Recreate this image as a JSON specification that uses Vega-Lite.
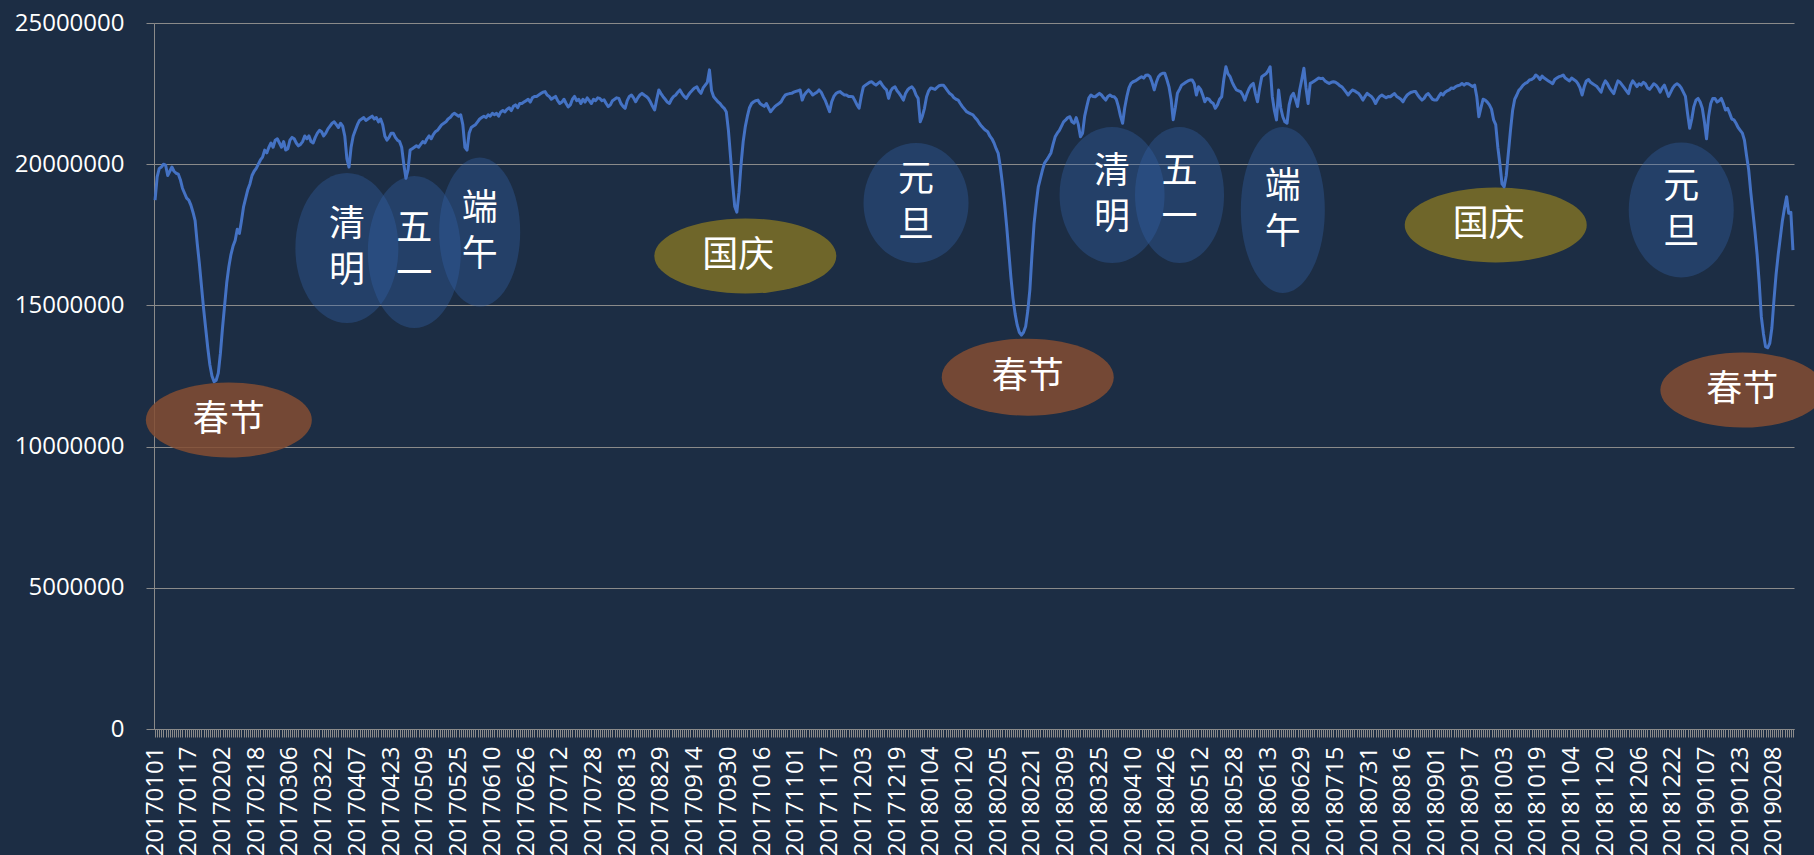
{
"$schema": "https://vega.github.io/schema/vega-lite/v6.json",
"width": 1640,
"height": 706,
"autosize": {"type": "none"},
"padding": {"left": 154, "top": 23, "right": 20, "bottom": 126},
"background": "#1c2d44",
"config": {"view": {"stroke": null}, "font": "Open Sans"},
"datasets": {
"series": [
{"d":"20170101","v":18730000},{"d":"20170102","v":19550000},{"d":"20170103","v":19850000},{"d":"20170104","v":19900000},{"d":"20170105","v":20000000},{"d":"20170106","v":19970000},{"d":"20170107","v":19600000},{"d":"20170108","v":19750000},{"d":"20170109","v":19900000},{"d":"20170110","v":19750000},{"d":"20170111","v":19680000},{"d":"20170112","v":19650000},{"d":"20170113","v":19450000},{"d":"20170114","v":19150000},{"d":"20170115","v":18970000},{"d":"20170116","v":18800000},{"d":"20170117","v":18730000},{"d":"20170118","v":18550000},{"d":"20170119","v":18300000},{"d":"20170120","v":18000000},{"d":"20170121","v":17200000},{"d":"20170122","v":16500000},{"d":"20170123","v":15700000},{"d":"20170124","v":14900000},{"d":"20170125","v":14200000},{"d":"20170126","v":13500000},{"d":"20170127","v":12900000},{"d":"20170128","v":12500000},{"d":"20170129","v":12300000},{"d":"20170130","v":12350000},{"d":"20170131","v":12600000},
{"d":"20170201","v":13300000},{"d":"20170202","v":14200000},{"d":"20170203","v":15000000},{"d":"20170204","v":15800000},{"d":"20170205","v":16370000},{"d":"20170206","v":16800000},{"d":"20170207","v":17100000},{"d":"20170208","v":17300000},{"d":"20170209","v":17700000},{"d":"20170210","v":17550000},{"d":"20170211","v":18000000},{"d":"20170212","v":18500000},{"d":"20170213","v":18800000},{"d":"20170214","v":19100000},{"d":"20170215","v":19300000},{"d":"20170216","v":19600000},{"d":"20170217","v":19750000},{"d":"20170218","v":19850000},{"d":"20170219","v":20000000},{"d":"20170220","v":20150000},{"d":"20170221","v":20250000},{"d":"20170222","v":20500000},{"d":"20170223","v":20400000},{"d":"20170224","v":20600000},{"d":"20170225","v":20750000},{"d":"20170226","v":20600000},{"d":"20170227","v":20850000},{"d":"20170228","v":20900000},
{"d":"20170301","v":20750000},{"d":"20170302","v":20600000},{"d":"20170303","v":20800000},{"d":"20170304","v":20500000},{"d":"20170305","v":20550000},{"d":"20170306","v":20850000},{"d":"20170307","v":20950000},{"d":"20170308","v":20900000},{"d":"20170309","v":20750000},{"d":"20170310","v":20650000},{"d":"20170311","v":20700000},{"d":"20170312","v":20800000},{"d":"20170313","v":21000000},{"d":"20170314","v":20900000},{"d":"20170315","v":21000000},{"d":"20170316","v":20800000},{"d":"20170317","v":20750000},{"d":"20170318","v":20950000},{"d":"20170319","v":21100000},{"d":"20170320","v":21200000},{"d":"20170321","v":21150000},{"d":"20170322","v":21000000},{"d":"20170323","v":21100000},{"d":"20170324","v":21250000},{"d":"20170325","v":21350000},{"d":"20170326","v":21450000},{"d":"20170327","v":21500000},{"d":"20170328","v":21400000},{"d":"20170329","v":21300000},{"d":"20170330","v":21450000},{"d":"20170331","v":21350000},
{"d":"20170401","v":21000000},{"d":"20170402","v":20200000},{"d":"20170403","v":19900000},{"d":"20170404","v":20600000},{"d":"20170405","v":21000000},{"d":"20170406","v":21200000},{"d":"20170407","v":21400000},{"d":"20170408","v":21550000},{"d":"20170409","v":21600000},{"d":"20170410","v":21650000},{"d":"20170411","v":21550000},{"d":"20170412","v":21600000},{"d":"20170413","v":21650000},{"d":"20170414","v":21700000},{"d":"20170415","v":21600000},{"d":"20170416","v":21650000},{"d":"20170417","v":21500000},{"d":"20170418","v":21600000},{"d":"20170419","v":21400000},{"d":"20170420","v":21000000},{"d":"20170421","v":20850000},{"d":"20170422","v":20950000},{"d":"20170423","v":21100000},{"d":"20170424","v":21100000},{"d":"20170425","v":20950000},{"d":"20170426","v":20850000},{"d":"20170427","v":20800000},{"d":"20170428","v":20600000},{"d":"20170429","v":20000000},{"d":"20170430","v":19500000},
{"d":"20170501","v":19800000},{"d":"20170502","v":20500000},{"d":"20170503","v":20550000},{"d":"20170504","v":20600000},{"d":"20170505","v":20650000},{"d":"20170506","v":20600000},{"d":"20170507","v":20700000},{"d":"20170508","v":20800000},{"d":"20170509","v":20750000},{"d":"20170510","v":20900000},{"d":"20170511","v":21000000},{"d":"20170512","v":20900000},{"d":"20170513","v":21050000},{"d":"20170514","v":21150000},{"d":"20170515","v":21200000},{"d":"20170516","v":21300000},{"d":"20170517","v":21400000},{"d":"20170518","v":21450000},{"d":"20170519","v":21500000},{"d":"20170520","v":21600000},{"d":"20170521","v":21650000},{"d":"20170522","v":21750000},{"d":"20170523","v":21800000},{"d":"20170524","v":21750000},{"d":"20170525","v":21700000},{"d":"20170526","v":21750000},{"d":"20170527","v":21400000},{"d":"20170528","v":20600000},{"d":"20170529","v":20500000},{"d":"20170530","v":21100000},{"d":"20170531","v":21300000},
{"d":"20170601","v":21350000},{"d":"20170602","v":21400000},{"d":"20170603","v":21500000},{"d":"20170604","v":21600000},{"d":"20170605","v":21650000},{"d":"20170606","v":21700000},{"d":"20170607","v":21650000},{"d":"20170608","v":21750000},{"d":"20170609","v":21700000},{"d":"20170610","v":21800000},{"d":"20170611","v":21750000},{"d":"20170612","v":21800000},{"d":"20170613","v":21700000},{"d":"20170614","v":21850000},{"d":"20170615","v":21900000},{"d":"20170616","v":21850000},{"d":"20170617","v":21950000},{"d":"20170618","v":22000000},{"d":"20170619","v":21900000},{"d":"20170620","v":22050000},{"d":"20170621","v":22100000},{"d":"20170622","v":22000000},{"d":"20170623","v":22150000},{"d":"20170624","v":22150000},{"d":"20170625","v":22200000},{"d":"20170626","v":22250000},{"d":"20170627","v":22300000},{"d":"20170628","v":22200000},{"d":"20170629","v":22350000},{"d":"20170630","v":22400000},
{"d":"20170701","v":22400000},{"d":"20170702","v":22450000},{"d":"20170703","v":22500000},{"d":"20170704","v":22550000},{"d":"20170705","v":22570000},{"d":"20170706","v":22450000},{"d":"20170707","v":22400000},{"d":"20170708","v":22300000},{"d":"20170709","v":22350000},{"d":"20170710","v":22400000},{"d":"20170711","v":22250000},{"d":"20170712","v":22150000},{"d":"20170713","v":22200000},{"d":"20170714","v":22300000},{"d":"20170715","v":22150000},{"d":"20170716","v":22030000},{"d":"20170717","v":22100000},{"d":"20170718","v":22300000},{"d":"20170719","v":22400000},{"d":"20170720","v":22250000},{"d":"20170721","v":22300000},{"d":"20170722","v":22150000},{"d":"20170723","v":22300000},{"d":"20170724","v":22200000},{"d":"20170725","v":22350000},{"d":"20170726","v":22250000},{"d":"20170727","v":22150000},{"d":"20170728","v":22300000},{"d":"20170729","v":22250000},{"d":"20170730","v":22350000},{"d":"20170731","v":22330000},
{"d":"20170801","v":22250000},{"d":"20170802","v":22280000},{"d":"20170803","v":22150000},{"d":"20170804","v":22040000},{"d":"20170805","v":22100000},{"d":"20170806","v":22250000},{"d":"20170807","v":22300000},{"d":"20170808","v":22350000},{"d":"20170809","v":22330000},{"d":"20170810","v":22150000},{"d":"20170811","v":22050000},{"d":"20170812","v":21980000},{"d":"20170813","v":22250000},{"d":"20170814","v":22400000},{"d":"20170815","v":22450000},{"d":"20170816","v":22350000},{"d":"20170817","v":22210000},{"d":"20170818","v":22350000},{"d":"20170819","v":22450000},{"d":"20170820","v":22510000},{"d":"20170821","v":22450000},{"d":"20170822","v":22400000},{"d":"20170823","v":22330000},{"d":"20170824","v":22200000},{"d":"20170825","v":22050000},{"d":"20170826","v":21920000},{"d":"20170827","v":22300000},{"d":"20170828","v":22630000},{"d":"20170829","v":22500000},{"d":"20170830","v":22390000},{"d":"20170831","v":22300000},
{"d":"20170901","v":22200000},{"d":"20170902","v":22150000},{"d":"20170903","v":22300000},{"d":"20170904","v":22400000},{"d":"20170905","v":22450000},{"d":"20170906","v":22550000},{"d":"20170907","v":22630000},{"d":"20170908","v":22500000},{"d":"20170909","v":22400000},{"d":"20170910","v":22330000},{"d":"20170911","v":22450000},{"d":"20170912","v":22550000},{"d":"20170913","v":22630000},{"d":"20170914","v":22700000},{"d":"20170915","v":22740000},{"d":"20170916","v":22600000},{"d":"20170917","v":22510000},{"d":"20170918","v":22700000},{"d":"20170919","v":22800000},{"d":"20170920","v":22900000},{"d":"20170921","v":23340000},{"d":"20170922","v":22600000},{"d":"20170923","v":22390000},{"d":"20170924","v":22300000},{"d":"20170925","v":22210000},{"d":"20170926","v":22150000},{"d":"20170927","v":22050000},{"d":"20170928","v":21980000},{"d":"20170929","v":21850000},{"d":"20170930","v":21200000},
{"d":"20171001","v":20270000},{"d":"20171002","v":19300000},{"d":"20171003","v":18500000},{"d":"20171004","v":18300000},{"d":"20171005","v":19000000},{"d":"20171006","v":20000000},{"d":"20171007","v":20800000},{"d":"20171008","v":21330000},{"d":"20171009","v":21700000},{"d":"20171010","v":22000000},{"d":"20171011","v":22150000},{"d":"20171012","v":22210000},{"d":"20171013","v":22250000},{"d":"20171014","v":22270000},{"d":"20171015","v":22150000},{"d":"20171016","v":22100000},{"d":"20171017","v":22050000},{"d":"20171018","v":22150000},{"d":"20171019","v":22000000},{"d":"20171020","v":21860000},{"d":"20171021","v":21950000},{"d":"20171022","v":22040000},{"d":"20171023","v":22100000},{"d":"20171024","v":22150000},{"d":"20171025","v":22210000},{"d":"20171026","v":22350000},{"d":"20171027","v":22450000},{"d":"20171028","v":22480000},{"d":"20171029","v":22500000},{"d":"20171030","v":22510000},{"d":"20171031","v":22550000},
{"d":"20171101","v":22580000},{"d":"20171102","v":22600000},{"d":"20171103","v":22630000},{"d":"20171104","v":22270000},{"d":"20171105","v":22450000},{"d":"20171106","v":22550000},{"d":"20171107","v":22630000},{"d":"20171108","v":22550000},{"d":"20171109","v":22450000},{"d":"20171110","v":22500000},{"d":"20171111","v":22550000},{"d":"20171112","v":22630000},{"d":"20171113","v":22550000},{"d":"20171114","v":22390000},{"d":"20171115","v":22250000},{"d":"20171116","v":22050000},{"d":"20171117","v":21860000},{"d":"20171118","v":22210000},{"d":"20171119","v":22400000},{"d":"20171120","v":22500000},{"d":"20171121","v":22550000},{"d":"20171122","v":22570000},{"d":"20171123","v":22500000},{"d":"20171124","v":22450000},{"d":"20171125","v":22450000},{"d":"20171126","v":22400000},{"d":"20171127","v":22400000},{"d":"20171128","v":22390000},{"d":"20171129","v":22250000},{"d":"20171130","v":22100000},
{"d":"20171201","v":21980000},{"d":"20171202","v":22400000},{"d":"20171203","v":22740000},{"d":"20171204","v":22800000},{"d":"20171205","v":22850000},{"d":"20171206","v":22900000},{"d":"20171207","v":22920000},{"d":"20171208","v":22850000},{"d":"20171209","v":22800000},{"d":"20171210","v":22860000},{"d":"20171211","v":22920000},{"d":"20171212","v":22800000},{"d":"20171213","v":22700000},{"d":"20171214","v":22630000},{"d":"20171215","v":22330000},{"d":"20171216","v":22600000},{"d":"20171217","v":22700000},{"d":"20171218","v":22740000},{"d":"20171219","v":22600000},{"d":"20171220","v":22510000},{"d":"20171221","v":22400000},{"d":"20171222","v":22270000},{"d":"20171223","v":22500000},{"d":"20171224","v":22630000},{"d":"20171225","v":22700000},{"d":"20171226","v":22740000},{"d":"20171227","v":22650000},{"d":"20171228","v":22450000},{"d":"20171229","v":22330000},{"d":"20171230","v":21500000},{"d":"20171231","v":21700000},
{"d":"20180101","v":21980000},{"d":"20180102","v":22390000},{"d":"20180103","v":22600000},{"d":"20180104","v":22700000},{"d":"20180105","v":22680000},{"d":"20180106","v":22650000},{"d":"20180107","v":22720000},{"d":"20180108","v":22780000},{"d":"20180109","v":22800000},{"d":"20180110","v":22800000},{"d":"20180111","v":22700000},{"d":"20180112","v":22600000},{"d":"20180113","v":22500000},{"d":"20180114","v":22450000},{"d":"20180115","v":22350000},{"d":"20180116","v":22300000},{"d":"20180117","v":22270000},{"d":"20180118","v":22150000},{"d":"20180119","v":22040000},{"d":"20180120","v":21950000},{"d":"20180121","v":21860000},{"d":"20180122","v":21820000},{"d":"20180123","v":21780000},{"d":"20180124","v":21750000},{"d":"20180125","v":21650000},{"d":"20180126","v":21570000},{"d":"20180127","v":21450000},{"d":"20180128","v":21350000},{"d":"20180129","v":21270000},{"d":"20180130","v":21200000},{"d":"20180131","v":21150000},
{"d":"20180201","v":21000000},{"d":"20180202","v":20900000},{"d":"20180203","v":20750000},{"d":"20180204","v":20550000},{"d":"20180205","v":20380000},{"d":"20180206","v":19900000},{"d":"20180207","v":19300000},{"d":"20180208","v":18600000},{"d":"20180209","v":17800000},{"d":"20180210","v":16900000},{"d":"20180211","v":16000000},{"d":"20180212","v":15250000},{"d":"20180213","v":14700000},{"d":"20180214","v":14300000},{"d":"20180215","v":14050000},{"d":"20180216","v":13950000},{"d":"20180217","v":14050000},{"d":"20180218","v":14250000},{"d":"20180219","v":14800000},{"d":"20180220","v":15550000},{"d":"20180221","v":16800000},{"d":"20180222","v":17900000},{"d":"20180223","v":18600000},{"d":"20180224","v":19200000},{"d":"20180225","v":19500000},{"d":"20180226","v":19800000},{"d":"20180227","v":20050000},{"d":"20180228","v":20150000},
{"d":"20180301","v":20270000},{"d":"20180302","v":20400000},{"d":"20180303","v":20700000},{"d":"20180304","v":20970000},{"d":"20180305","v":21100000},{"d":"20180306","v":21200000},{"d":"20180307","v":21350000},{"d":"20180308","v":21500000},{"d":"20180309","v":21570000},{"d":"20180310","v":21650000},{"d":"20180311","v":21680000},{"d":"20180312","v":21500000},{"d":"20180313","v":21450000},{"d":"20180314","v":21650000},{"d":"20180315","v":21400000},{"d":"20180316","v":20970000},{"d":"20180317","v":21100000},{"d":"20180318","v":21700000},{"d":"20180319","v":22040000},{"d":"20180320","v":22350000},{"d":"20180321","v":22450000},{"d":"20180322","v":22400000},{"d":"20180323","v":22390000},{"d":"20180324","v":22450000},{"d":"20180325","v":22510000},{"d":"20180326","v":22450000},{"d":"20180327","v":22350000},{"d":"20180328","v":22270000},{"d":"20180329","v":22400000},{"d":"20180330","v":22450000},{"d":"20180331","v":22400000},
{"d":"20180401","v":22390000},{"d":"20180402","v":22300000},{"d":"20180403","v":22040000},{"d":"20180404","v":21700000},{"d":"20180405","v":21450000},{"d":"20180406","v":22000000},{"d":"20180407","v":22390000},{"d":"20180408","v":22700000},{"d":"20180409","v":22860000},{"d":"20180410","v":22920000},{"d":"20180411","v":22950000},{"d":"20180412","v":23000000},{"d":"20180413","v":23050000},{"d":"20180414","v":23100000},{"d":"20180415","v":23050000},{"d":"20180416","v":23150000},{"d":"20180417","v":23160000},{"d":"20180418","v":23100000},{"d":"20180419","v":22900000},{"d":"20180420","v":22630000},{"d":"20180421","v":22900000},{"d":"20180422","v":23100000},{"d":"20180423","v":23180000},{"d":"20180424","v":23220000},{"d":"20180425","v":23220000},{"d":"20180426","v":23000000},{"d":"20180427","v":22740000},{"d":"20180428","v":22300000},{"d":"20180429","v":21570000},{"d":"20180430","v":22000000},
{"d":"20180501","v":22510000},{"d":"20180502","v":22650000},{"d":"20180503","v":22800000},{"d":"20180504","v":22850000},{"d":"20180505","v":22900000},{"d":"20180506","v":22950000},{"d":"20180507","v":22980000},{"d":"20180508","v":22980000},{"d":"20180509","v":22850000},{"d":"20180510","v":22450000},{"d":"20180511","v":22740000},{"d":"20180512","v":22650000},{"d":"20180513","v":22450000},{"d":"20180514","v":22210000},{"d":"20180515","v":22330000},{"d":"20180516","v":22300000},{"d":"20180517","v":22200000},{"d":"20180518","v":22150000},{"d":"20180519","v":21980000},{"d":"20180520","v":22100000},{"d":"20180521","v":22300000},{"d":"20180522","v":22390000},{"d":"20180523","v":23000000},{"d":"20180524","v":23450000},{"d":"20180525","v":23200000},{"d":"20180526","v":23100000},{"d":"20180527","v":22900000},{"d":"20180528","v":22750000},{"d":"20180529","v":22630000},{"d":"20180530","v":22600000},{"d":"20180531","v":22570000},
{"d":"20180601","v":22450000},{"d":"20180602","v":22270000},{"d":"20180603","v":22500000},{"d":"20180604","v":22680000},{"d":"20180605","v":22800000},{"d":"20180606","v":22860000},{"d":"20180607","v":22500000},{"d":"20180608","v":22210000},{"d":"20180609","v":22700000},{"d":"20180610","v":23100000},{"d":"20180611","v":23150000},{"d":"20180612","v":23200000},{"d":"20180613","v":23300000},{"d":"20180614","v":23450000},{"d":"20180615","v":22400000},{"d":"20180616","v":21900000},{"d":"20180617","v":21570000},{"d":"20180618","v":22630000},{"d":"20180619","v":22000000},{"d":"20180620","v":21680000},{"d":"20180621","v":21500000},{"d":"20180622","v":21450000},{"d":"20180623","v":22100000},{"d":"20180624","v":22400000},{"d":"20180625","v":22510000},{"d":"20180626","v":22300000},{"d":"20180627","v":22040000},{"d":"20180628","v":22630000},{"d":"20180629","v":23000000},{"d":"20180630","v":23400000},
{"d":"20180701","v":22700000},{"d":"20180702","v":22150000},{"d":"20180703","v":22860000},{"d":"20180704","v":22900000},{"d":"20180705","v":22950000},{"d":"20180706","v":23000000},{"d":"20180707","v":23050000},{"d":"20180708","v":23030000},{"d":"20180709","v":23040000},{"d":"20180710","v":22950000},{"d":"20180711","v":22900000},{"d":"20180712","v":22860000},{"d":"20180713","v":22900000},{"d":"20180714","v":22920000},{"d":"20180715","v":22900000},{"d":"20180716","v":22850000},{"d":"20180717","v":22780000},{"d":"20180718","v":22740000},{"d":"20180719","v":22650000},{"d":"20180720","v":22550000},{"d":"20180721","v":22450000},{"d":"20180722","v":22550000},{"d":"20180723","v":22630000},{"d":"20180724","v":22600000},{"d":"20180725","v":22550000},{"d":"20180726","v":22500000},{"d":"20180727","v":22400000},{"d":"20180728","v":22270000},{"d":"20180729","v":22400000},{"d":"20180730","v":22510000},{"d":"20180731","v":22450000},
{"d":"20180801","v":22400000},{"d":"20180802","v":22300000},{"d":"20180803","v":22150000},{"d":"20180804","v":22300000},{"d":"20180805","v":22400000},{"d":"20180806","v":22450000},{"d":"20180807","v":22400000},{"d":"20180808","v":22350000},{"d":"20180809","v":22400000},{"d":"20180810","v":22390000},{"d":"20180811","v":22450000},{"d":"20180812","v":22500000},{"d":"20180813","v":22400000},{"d":"20180814","v":22350000},{"d":"20180815","v":22300000},{"d":"20180816","v":22210000},{"d":"20180817","v":22350000},{"d":"20180818","v":22450000},{"d":"20180819","v":22510000},{"d":"20180820","v":22550000},{"d":"20180821","v":22570000},{"d":"20180822","v":22570000},{"d":"20180823","v":22450000},{"d":"20180824","v":22350000},{"d":"20180825","v":22270000},{"d":"20180826","v":22330000},{"d":"20180827","v":22450000},{"d":"20180828","v":22500000},{"d":"20180829","v":22400000},{"d":"20180830","v":22300000},{"d":"20180831","v":22270000},
{"d":"20180901","v":22270000},{"d":"20180902","v":22400000},{"d":"20180903","v":22510000},{"d":"20180904","v":22450000},{"d":"20180905","v":22550000},{"d":"20180906","v":22600000},{"d":"20180907","v":22630000},{"d":"20180908","v":22700000},{"d":"20180909","v":22680000},{"d":"20180910","v":22750000},{"d":"20180911","v":22780000},{"d":"20180912","v":22800000},{"d":"20180913","v":22860000},{"d":"20180914","v":22800000},{"d":"20180915","v":22860000},{"d":"20180916","v":22850000},{"d":"20180917","v":22800000},{"d":"20180918","v":22750000},{"d":"20180919","v":22800000},{"d":"20180920","v":22400000},{"d":"20180921","v":21680000},{"d":"20180922","v":22000000},{"d":"20180923","v":22300000},{"d":"20180924","v":22270000},{"d":"20180925","v":22200000},{"d":"20180926","v":22100000},{"d":"20180927","v":21950000},{"d":"20180928","v":21570000},{"d":"20180929","v":21400000},{"d":"20180930","v":20600000},
{"d":"20181001","v":20000000},{"d":"20181002","v":19300000},{"d":"20181003","v":19200000},{"d":"20181004","v":19600000},{"d":"20181005","v":20400000},{"d":"20181006","v":21200000},{"d":"20181007","v":21900000},{"d":"20181008","v":22300000},{"d":"20181009","v":22450000},{"d":"20181010","v":22620000},{"d":"20181011","v":22700000},{"d":"20181012","v":22800000},{"d":"20181013","v":22860000},{"d":"20181014","v":22900000},{"d":"20181015","v":22980000},{"d":"20181016","v":23000000},{"d":"20181017","v":23050000},{"d":"20181018","v":23160000},{"d":"20181019","v":23100000},{"d":"20181020","v":23000000},{"d":"20181021","v":23120000},{"d":"20181022","v":23050000},{"d":"20181023","v":23000000},{"d":"20181024","v":22950000},{"d":"20181025","v":22900000},{"d":"20181026","v":22850000},{"d":"20181027","v":23000000},{"d":"20181028","v":23050000},{"d":"20181029","v":23100000},{"d":"20181030","v":23120000},{"d":"20181031","v":23160000},
{"d":"20181101","v":23050000},{"d":"20181102","v":23000000},{"d":"20181103","v":22950000},{"d":"20181104","v":23050000},{"d":"20181105","v":23000000},{"d":"20181106","v":22950000},{"d":"20181107","v":22850000},{"d":"20181108","v":22700000},{"d":"20181109","v":22450000},{"d":"20181110","v":22750000},{"d":"20181111","v":22950000},{"d":"20181112","v":23000000},{"d":"20181113","v":22900000},{"d":"20181114","v":22850000},{"d":"20181115","v":22800000},{"d":"20181116","v":22750000},{"d":"20181117","v":22650000},{"d":"20181118","v":22550000},{"d":"20181119","v":22800000},{"d":"20181120","v":22950000},{"d":"20181121","v":22850000},{"d":"20181122","v":22700000},{"d":"20181123","v":22600000},{"d":"20181124","v":22500000},{"d":"20181125","v":22750000},{"d":"20181126","v":22950000},{"d":"20181127","v":22900000},{"d":"20181128","v":22800000},{"d":"20181129","v":22700000},{"d":"20181130","v":22600000},
{"d":"20181201","v":22500000},{"d":"20181202","v":22800000},{"d":"20181203","v":22950000},{"d":"20181204","v":22850000},{"d":"20181205","v":22750000},{"d":"20181206","v":22850000},{"d":"20181207","v":22800000},{"d":"20181208","v":22900000},{"d":"20181209","v":22850000},{"d":"20181210","v":22700000},{"d":"20181211","v":22650000},{"d":"20181212","v":22750000},{"d":"20181213","v":22850000},{"d":"20181214","v":22800000},{"d":"20181215","v":22700000},{"d":"20181216","v":22550000},{"d":"20181217","v":22700000},{"d":"20181218","v":22800000},{"d":"20181219","v":22600000},{"d":"20181220","v":22400000},{"d":"20181221","v":22550000},{"d":"20181222","v":22700000},{"d":"20181223","v":22800000},{"d":"20181224","v":22850000},{"d":"20181225","v":22800000},{"d":"20181226","v":22700000},{"d":"20181227","v":22550000},{"d":"20181228","v":22400000},{"d":"20181229","v":21800000},{"d":"20181230","v":21270000},{"d":"20181231","v":21600000},
{"d":"20190101","v":22040000},{"d":"20190102","v":22270000},{"d":"20190103","v":22330000},{"d":"20190104","v":22200000},{"d":"20190105","v":21980000},{"d":"20190106","v":21500000},{"d":"20190107","v":20900000},{"d":"20190108","v":21700000},{"d":"20190109","v":22150000},{"d":"20190110","v":22330000},{"d":"20190111","v":22330000},{"d":"20190112","v":22200000},{"d":"20190113","v":22250000},{"d":"20190114","v":22330000},{"d":"20190115","v":22150000},{"d":"20190116","v":21920000},{"d":"20190117","v":21980000},{"d":"20190118","v":21800000},{"d":"20190119","v":21600000},{"d":"20190120","v":21570000},{"d":"20190121","v":21450000},{"d":"20190122","v":21300000},{"d":"20190123","v":21200000},{"d":"20190124","v":21100000},{"d":"20190125","v":20850000},{"d":"20190126","v":20300000},{"d":"20190127","v":19800000},{"d":"20190128","v":19000000},{"d":"20190129","v":18300000},{"d":"20190130","v":17600000},{"d":"20190131","v":16800000},
{"d":"20190201","v":15800000},{"d":"20190202","v":14600000},{"d":"20190203","v":14000000},{"d":"20190204","v":13540000},{"d":"20190205","v":13500000},{"d":"20190206","v":13660000},{"d":"20190207","v":14200000},{"d":"20190208","v":15200000},{"d":"20190209","v":16100000},{"d":"20190210","v":16800000},{"d":"20190211","v":17400000},{"d":"20190212","v":18000000},{"d":"20190213","v":18450000},{"d":"20190214","v":18850000},{"d":"20190215","v":18260000},{"d":"20190216","v":18300000},{"d":"20190217","v":16960000}
],
"notes": [
{"id":"n1","name":"春节","label":"春节","d":"20170205","v":10940000},
{"id":"n2","name":"清明","label":"清\n明","d":"20170402","v":17030000},
{"id":"n3","name":"五一","label":"五\n一","d":"20170504","v":16890000},
{"id":"n4","name":"端午","label":"端\n午","d":"20170604","v":17600000},
{"id":"n5","name":"国庆","label":"国庆","d":"20171008","v":16750000},
{"id":"n6","name":"元旦","label":"元\n旦","d":"20171228","v":18630000},
{"id":"n7","name":"春节","label":"春节","d":"20180219","v":12460000},
{"id":"n8","name":"清明","label":"清\n明","d":"20180331","v":18910000},
{"id":"n9","name":"五一","label":"五\n一","d":"20180502","v":18910000},
{"id":"n10","name":"端午","label":"端\n午","d":"20180620","v":18380000},
{"id":"n11","name":"国庆","label":"国庆","d":"20180929","v":17850000},
{"id":"n12","name":"元旦","label":"元\n旦","d":"20181226","v":18380000},
{"id":"n13","name":"春节","label":"春节","d":"20190124","v":12000000}
]
},
"encoding": {
"x": {"field": "d", "type": "ordinal", "title": null,
 "axis": {"labelAngle": 270, "labelOverlap": false, "labelFontSize": 24, "labelColor": "#ffffff", "labelFont": "Open Sans", "labelPadding": 9,
  "labelExpr": "round((utc(toNumber(slice(datum.value,0,4)),toNumber(slice(datum.value,4,6))-1,toNumber(slice(datum.value,6,8)))-utc(2017,0,1))/86400000)%16==0 ? datum.label : ''",
  "tickSize": 8, "tickColor": "#8a8a8a", "tickWidth": 1, "domainColor": "#8a8a8a", "domainWidth": 1, "grid": false}},
"y": {"field": "v", "type": "quantitative", "title": null,
 "scale": {"domain": [0, 25000000], "nice": false, "zero": true},
 "axis": {"values": [0, 5000000, 10000000, 15000000, 20000000, 25000000], "format": "d", "labelFontSize": 24, "labelColor": "#ffffff", "labelFont": "Open Sans", "labelPadding": 22,
  "tickSize": 8, "tickColor": "#8a8a8a", "domainColor": "#8a8a8a", "grid": true, "gridColor": "#8a8a8a", "gridWidth": 1}}
},
"layer": [
{"data": {"name": "notes"},
 "mark": {"type": "point", "filled": true, "size": 4, "opacity": 1, "strokeWidth": 0},
 "encoding": {
  "color": {"field": "name", "type": "nominal", "legend": null,
   "scale": {"domain": ["春节", "国庆", "清明", "五一", "端午", "元旦"],
    "range": ["rgba(132,78,50,0.85)", "rgba(126,113,38,0.85)", "rgba(52,100,172,0.35)", "rgba(52,100,172,0.35)", "rgba(52,100,172,0.35)", "rgba(52,100,172,0.35)"]}},
  "shape": {"field": "id", "type": "nominal", "legend": null,
   "scale": {"domain": ["n1","n2","n3","n4","n5","n6","n7","n8","n9","n10","n11","n12","n13"],
    "range": [
     "M -83 0 C -83 -20.7 -45.8 -37.5 0 -37.5 C 45.8 -37.5 83 -20.7 83 0 C 83 20.7 45.8 37.5 0 37.5 C -45.8 37.5 -83 20.7 -83 0 Z",
     "M -51.5 0 C -51.5 -41.4 -28.4 -75 0 -75 C 28.4 -75 51.5 -41.4 51.5 0 C 51.5 41.4 28.4 75 0 75 C -28.4 75 -51.5 41.4 -51.5 0 Z",
     "M -46.5 0 C -46.5 -42 -25.7 -76 0 -76 C 25.7 -76 46.5 -42 46.5 0 C 46.5 42 25.7 76 0 76 C -25.7 76 -46.5 42 -46.5 0 Z",
     "M -40.5 0 C -40.5 -41.1 -22.4 -74.5 0 -74.5 C 22.4 -74.5 40.5 -41.1 40.5 0 C 40.5 41.1 22.4 74.5 0 74.5 C -22.4 74.5 -40.5 41.1 -40.5 0 Z",
     "M -91 0 C -91 -20.7 -50.3 -37.5 0 -37.5 C 50.3 -37.5 91 -20.7 91 0 C 91 20.7 50.3 37.5 0 37.5 C -50.3 37.5 -91 20.7 -91 0 Z",
     "M -52.5 0 C -52.5 -33.1 -29 -60 0 -60 C 29 -60 52.5 -33.1 52.5 0 C 52.5 33.1 29 60 0 60 C -29 60 -52.5 33.1 -52.5 0 Z",
     "M -86 0 C -86 -21.3 -47.5 -38.5 0 -38.5 C 47.5 -38.5 86 -21.3 86 0 C 86 21.3 47.5 38.5 0 38.5 C -47.5 38.5 -86 21.3 -86 0 Z",
     "M -52.5 0 C -52.5 -37.6 -29 -68 0 -68 C 29 -68 52.5 -37.6 52.5 0 C 52.5 37.6 29 68 0 68 C -29 68 -52.5 37.6 -52.5 0 Z",
     "M -44.5 0 C -44.5 -37.6 -24.6 -68 0 -68 C 24.6 -68 44.5 -37.6 44.5 0 C 44.5 37.6 24.6 68 0 68 C -24.6 68 -44.5 37.6 -44.5 0 Z",
     "M -42 0 C -42 -45.8 -23.2 -83 0 -83 C 23.2 -83 42 -45.8 42 0 C 42 45.8 23.2 83 0 83 C -23.2 83 -42 45.8 -42 0 Z",
     "M -91 0 C -91 -20.7 -50.3 -37.5 0 -37.5 C 50.3 -37.5 91 -20.7 91 0 C 91 20.7 50.3 37.5 0 37.5 C -50.3 37.5 -91 20.7 -91 0 Z",
     "M -52.5 0 C -52.5 -37.3 -29 -67.5 0 -67.5 C 29 -67.5 52.5 -37.3 52.5 0 C 52.5 37.3 29 67.5 0 67.5 C -29 67.5 -52.5 37.3 -52.5 0 Z",
     "M -82 0 C -82 -20.7 -45.3 -37.5 0 -37.5 C 45.3 -37.5 82 -20.7 82 0 C 82 20.7 45.3 37.5 0 37.5 C -45.3 37.5 -82 20.7 -82 0 Z"
    ]}}
 }},
{"data": {"name": "series"},
 "mark": {"type": "line", "color": "#4472C4", "strokeWidth": 3, "strokeJoin": "round"}},
{"data": {"name": "notes"},
 "transform": [{"filter": {"field": "name", "equal": "春节"}}],
 "mark": {"type": "text", "font": "Noto Sans CJK SC", "fontSize": 36, "color": "#ffffff", "align": "center", "baseline": "middle"},
 "encoding": {"text": {"field": "label", "type": "nominal"}}},
{"data": {"name": "notes"},
 "transform": [{"filter": {"field": "name", "equal": "国庆"}}],
 "mark": {"type": "text", "font": "Noto Sans CJK SC", "fontSize": 36, "color": "#ffffff", "align": "center", "baseline": "middle", "dx": -7},
 "encoding": {"text": {"field": "label", "type": "nominal"}}},
{"data": {"name": "notes"},
 "transform": [{"filter": {"field": "name", "oneOf": ["清明", "五一", "端午", "元旦"]}}],
 "mark": {"type": "text", "font": "Noto Sans CJK SC", "fontSize": 36, "lineHeight": 46, "lineBreak": "\n", "color": "#ffffff", "align": "center", "baseline": "middle", "dy": -23},
 "encoding": {"text": {"field": "label", "type": "nominal"}}}
]
}
